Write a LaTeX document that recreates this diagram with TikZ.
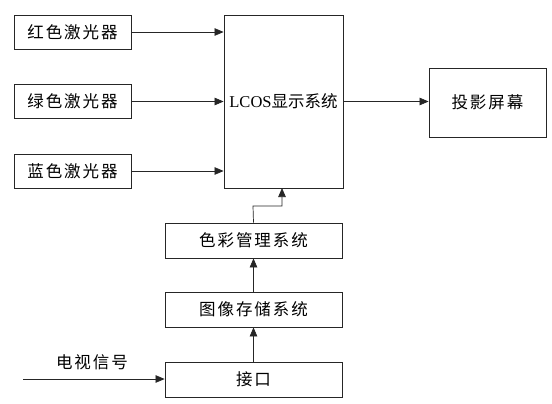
\documentclass[tikz,border=0pt]{standalone}
\usepackage{fontspec}
\setmainfont{Liberation Serif}
\newfontfamily\cjk[LetterSpace=12]{Noto Sans CJK SC}
\newfontfamily\cjkn{Noto Sans CJK SC}
\usetikzlibrary{arrows.meta}
\begin{document}
\begin{tikzpicture}[x=1pt,y=-1pt,
  box/.style={draw=black!85,line width=0.8pt,inner sep=0pt,font=\fontsize{16.5pt}{18pt}\selectfont},
  arr/.style={draw=black!85,line width=0.7pt,-{Triangle[length=9pt,width=7.5pt]}}]
\useasboundingbox[fill=white] (0,0) rectangle (552,404);
\node[box,minimum width=117pt,minimum height=34pt] (red) at (72.5,32) {\cjk 红色激光器};
\node[box,minimum width=117pt,minimum height=34pt] (green) at (72.5,101) {\cjk 绿色激光器};
\node[box,minimum width=117pt,minimum height=34pt] (blue) at (72.5,171) {\cjk 蓝色激光器};
\node[box,minimum width=119pt,minimum height=173pt] (lcos) at (283.5,101.5) {LCOS{\cjkn 显示系统}};
\node[box,minimum width=117pt,minimum height=69pt] (screen) at (487.5,102.5) {\cjk 投影屏幕};
\node[box,minimum width=177pt,minimum height=35pt] (color) at (253.5,240.5) {\cjk 色彩管理系统};
\node[box,minimum width=177pt,minimum height=35pt] (store) at (253.5,309.5) {\cjk 图像存储系统};
\node[box,minimum width=177pt,minimum height=35pt] (iface) at (253.5,379.5) {\cjk 接口};
\coordinate (tv) at (23,379);
\node[font=\fontsize{16.5pt}{18pt}\selectfont] (tvlabel) at (92,362) {\cjk 电视信号};
\draw[arr] (red.east) -- (red.east -| lcos.west);
\draw[arr] (green.east |- lcos.west) -- (lcos.west);
\draw[arr] (blue.east) -- (blue.east -| lcos.west);
\draw[arr] (lcos.east) -- (lcos.east -| screen.west);
\draw[arr] (color.north) -- (253,206) -- (282,206) -- (282,188);
\draw[arr] (store.north) -- (color.south);
\draw[arr] (iface.north) -- (store.south);
\draw[arr] (tv) -- (tv -| iface.west);
\end{tikzpicture}
\end{document}
